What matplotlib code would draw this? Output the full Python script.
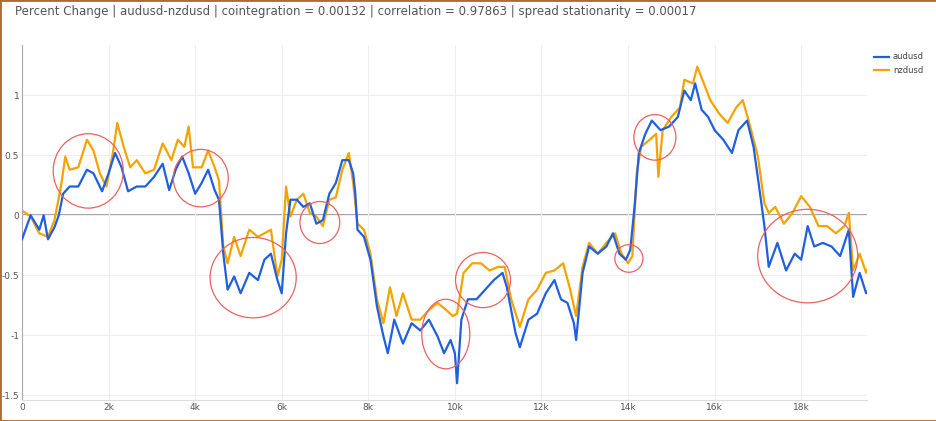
import matplotlib
matplotlib.use("Agg")
import matplotlib.pyplot as plt
from matplotlib.patches import Ellipse, Rectangle

# step index (thousands) and percent change
aud_x = [0, 0.2, 0.4, 0.5, 0.6, 0.75, 0.85, 0.95, 1.1, 1.3, 1.5, 1.65, 1.85, 2.0, 2.15, 2.3, 2.45,
         2.65, 2.85, 3.05, 3.25, 3.4, 3.55, 3.7, 3.85, 4.0, 4.15, 4.3, 4.45, 4.55, 4.65, 4.75,
         4.9, 5.05, 5.25, 5.45, 5.6, 5.75, 5.9, 6.0, 6.1, 6.2, 6.35, 6.5, 6.65, 6.8, 6.95, 7.1,
         7.25, 7.4, 7.55, 7.65, 7.7, 7.75, 7.9, 8.05, 8.2, 8.35, 8.45, 8.6, 8.8, 9.0, 9.2, 9.4,
         9.6, 9.75, 9.9, 10.0, 10.05, 10.15, 10.3, 10.5, 10.7, 10.9, 11.1, 11.2, 11.4, 11.5, 11.7,
         11.9, 12.1, 12.3, 12.45, 12.6, 12.75, 12.8, 12.95, 13.1, 13.3, 13.5, 13.65, 13.8, 13.95,
         14.05, 14.15, 14.25, 14.4, 14.55, 14.75, 14.95, 15.15, 15.3, 15.45, 15.55, 15.7, 15.85,
         16.0, 16.2, 16.4, 16.55, 16.75, 16.9, 17.05, 17.15, 17.25, 17.45, 17.65, 17.85, 18.0,
         18.15, 18.3, 18.5, 18.7, 18.9, 19.1, 19.2, 19.35, 19.5, 19.65]
aud_y = [-0.2, 0.0, -0.12, 0.0, -0.2, -0.1, 0.0, 0.18, 0.24, 0.24, 0.38, 0.35, 0.2, 0.35, 0.52, 0.4,
         0.2, 0.24, 0.24, 0.32, 0.43, 0.21, 0.38, 0.49, 0.35, 0.18, 0.27, 0.38, 0.21, 0.13, -0.32,
         -0.62, -0.51, -0.65, -0.48, -0.54, -0.37, -0.32, -0.54, -0.65, -0.15, 0.13, 0.13, 0.07,
         0.1, -0.07, -0.04, 0.18, 0.27, 0.46, 0.46, 0.35, 0.18, -0.12, -0.18, -0.37, -0.76, -1.01,
         -1.15, -0.87, -1.07, -0.9, -0.96, -0.87, -1.01, -1.15, -1.04, -1.15, -1.4, -0.87, -0.7,
         -0.7, -0.62, -0.54, -0.48, -0.6, -0.98, -1.1, -0.87, -0.82, -0.65, -0.54, -0.7, -0.73,
         -0.9, -1.04, -0.48, -0.26, -0.32, -0.26, -0.15, -0.32, -0.37, -0.29, 0.07, 0.52, 0.68,
         0.79, 0.71, 0.74, 0.82, 1.04, 0.96, 1.1, 0.88, 0.82, 0.71, 0.63, 0.52, 0.71, 0.79, 0.57,
         0.18, -0.09, -0.43, -0.23, -0.46, -0.32, -0.37, -0.09, -0.26, -0.23, -0.26, -0.34, -0.12,
         -0.68, -0.48, -0.65, -0.57]

nzd_x = [0, 0.2, 0.4, 0.6, 0.75, 0.9, 1.0, 1.1, 1.3, 1.5, 1.65, 1.8, 1.95, 2.1, 2.2, 2.35, 2.5,
         2.65, 2.85, 3.05, 3.25, 3.45, 3.6, 3.75, 3.85, 3.95, 4.15, 4.3, 4.45, 4.55, 4.65, 4.75,
         4.9, 5.05, 5.25, 5.45, 5.6, 5.75, 5.9, 6.0, 6.1, 6.2, 6.35, 6.5, 6.65, 6.8, 6.95, 7.1,
         7.25, 7.4, 7.55, 7.65, 7.75, 7.9, 8.05, 8.2, 8.35, 8.5, 8.65, 8.8, 9.0, 9.2, 9.4, 9.6,
         9.8, 9.95, 10.05, 10.2, 10.4, 10.6, 10.8, 11.0, 11.15, 11.3, 11.5, 11.7, 11.9, 12.1, 12.3,
         12.5, 12.65, 12.8, 12.95, 13.1, 13.3, 13.5, 13.7, 13.85, 14.0, 14.1, 14.2, 14.3, 14.5,
         14.65, 14.7, 14.8, 15.0, 15.2, 15.3, 15.5, 15.6, 15.75, 15.9, 16.1, 16.3, 16.5, 16.65,
         16.8, 17.0, 17.15, 17.25, 17.4, 17.6, 17.8, 18.0, 18.2, 18.4, 18.6, 18.8, 19.0, 19.1,
         19.2, 19.35, 19.5, 19.65]
nzd_y = [0.04, -0.01, -0.15, -0.18, -0.04, 0.24, 0.49, 0.38, 0.4, 0.63, 0.54, 0.35, 0.24, 0.52,
         0.77, 0.57, 0.4, 0.46, 0.35, 0.38, 0.6, 0.46, 0.63, 0.57, 0.74, 0.4, 0.4, 0.54, 0.4, 0.29,
         -0.26, -0.4, -0.18, -0.34, -0.12, -0.18, -0.15, -0.12, -0.51, -0.37, 0.24, -0.01, 0.13,
         0.18, 0.02, -0.01, -0.09, 0.13, 0.15, 0.38, 0.52, 0.27, -0.07, -0.12, -0.32, -0.7, -0.9,
         -0.6, -0.84, -0.65, -0.87, -0.87, -0.79, -0.73, -0.79, -0.84, -0.82, -0.48, -0.4, -0.4,
         -0.46, -0.43, -0.43, -0.7, -0.93, -0.7, -0.62, -0.48, -0.46, -0.4, -0.6, -0.84, -0.43,
         -0.23, -0.32, -0.23, -0.15, -0.32, -0.4, -0.34, 0.35, 0.57, 0.63, 0.68, 0.32, 0.71, 0.82,
         0.9, 1.13, 1.1, 1.24, 1.1, 0.96, 0.85, 0.77, 0.9, 0.96, 0.77, 0.49, 0.1, 0.02, 0.07, -0.07,
         0.02, 0.16, 0.07, -0.09, -0.09, -0.15, -0.09, 0.02, -0.46, -0.32, -0.48, -0.34]

# red highlight circles: centre x, centre y, width, height (data units)
circles = [(1.53, 0.37, 1.62, 0.62), (4.13, 0.31, 1.27, 0.48), (5.34, -0.52, 1.99, 0.67),
           (6.88, -0.06, 0.92, 0.35), (9.79, -0.99, 1.11, 0.58), (10.65, -0.54, 1.27, 0.46),
           (14.02, -0.36, 0.65, 0.23), (14.62, 0.65, 0.97, 0.38), (18.15, -0.34, 2.31, 0.78)]

fig = plt.figure(figsize=(9.37, 4.21), dpi=100)
ax = fig.add_axes([22 / 937, 21 / 421, 845 / 937, 355 / 421])
scale = 1000
ax.plot([v * scale for v in aud_x], aud_y, color="#1f5fe0", lw=1.6, label="audusd", zorder=3)
ax.plot([v * scale for v in nzd_x], nzd_y, color="#f5a300", lw=1.6, label="nzdusd", zorder=2)
ax.axhline(0, color="#888888", lw=1.1, zorder=1)
for cx, cy, w, h in circles:
    ax.add_patch(Ellipse((cx * scale, cy), w * scale, h, fill=False, ec="#ee6060", lw=0.9, zorder=4))

ax.set_xlim(0, 19520)
ax.set_ylim(-1.54, 1.42)
ax.set_xticks(range(0, 19000, 2000))
ax.set_xticklabels(["0"] + [f"{k}k" for k in range(2, 19, 2)])
ax.set_yticks([-1.5, -1, -0.5, 0, 0.5, 1])
ax.set_yticklabels(["-1.5", "-1", "-0.5", "0", "0.5", "1"])
ax.tick_params(labelsize=6.5, colors="#555555", length=0, pad=2)
ax.grid(True, color="#eeeeee", lw=0.8)
for s in ["top", "right"]:
    ax.spines[s].set_visible(False)
ax.spines["left"].set_color("#aaaaaa")
ax.spines["bottom"].set_color("#dddddd")

ax.legend(loc="upper left", bbox_to_anchor=(1.0, 1.0), frameon=False, fontsize=6,
          handlelength=1.8, handletextpad=0.4, labelcolor="#444444")
fig.text(15 / 937, 1 - 12 / 421, "Percent Change | audusd-nzdusd | cointegration = 0.00132 | "
         "correlation = 0.97863 | spread stationarity = 0.00017", fontsize=8.5, color="#555555",
         va="center")
fig.add_artist(Rectangle((0, 0), 1, 1, transform=fig.transFigure, fill=False,
                         ec="#b06a2a", lw=2))
fig.savefig("out.png")
